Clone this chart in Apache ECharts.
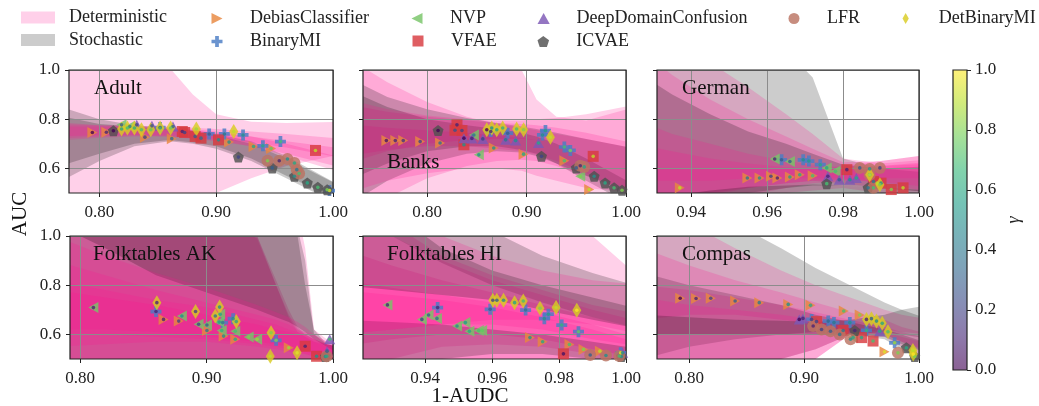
<!DOCTYPE html>
<html><head><meta charset="utf-8">
<script src="https://cdn.jsdelivr.net/npm/echarts@6/dist/echarts.min.js"></script>
<style>html,body{margin:0;padding:0;background:#fff}#c{width:1039px;height:406px}</style>
</head><body><div id="c"></div><script>
// ---------------- data ----------------
const panelNames = ['Adult','Banks','German','Folktables AK','Folktables HI','Compas'];
const xMin = [0.774, 0.7355, 0.931, 0.792, 0.9214, 0.772];
const xMax = [1.0, 1.0, 1.0, 1.0, 1.0, 1.0];
const xTicks = [[0.8,0.9,1.0],[0.8,0.9,1.0],[0.94,0.96,0.98,1.0],[0.8,0.9,1.0],[0.94,0.96,0.98,1.0],[0.8,0.9,1.0]];
const yTicks = [0.6, 0.8, 1.0];
const cbTicks = [0.0, 0.2, 0.4, 0.6, 0.8, 1.0];
const methods = ['DebiasClassifier','BinaryMI','NVP','VFAE','DeepDomainConfusion','ICVAE','LFR','DetBinaryMI'];

// points per panel: [1-AUDC, AUC, gamma]
const DebiasClassifier = [
 [[0.794,0.746,0.0],[0.806,0.747,0.1],[0.839,0.727,0.2],[0.862,0.721,0.35],[0.911,0.707,0.5],[0.932,0.689,0.6],[0.947,0.681,0.75]],
 [[0.759,0.713,0.05],[0.768,0.713,0.1],[0.776,0.713,0.15],[0.793,0.709,0.2],[0.813,0.703,0.35],[0.867,0.683,0.5],[0.897,0.658,0.6],[0.938,0.631,0.7],[0.963,0.514,0.9]],
 [[0.937,0.521,0.9],[0.9548,0.561,0.4],[0.958,0.561,0.5],[0.961,0.568,0.2],[0.9627,0.561,0.1],[0.966,0.565,0.55],[0.9686,0.574,0.6],[0.972,0.570,0.7]],
 [[0.866,0.661,0.1],[0.878,0.654,0.2],[0.9003,0.616,0.4],[0.9135,0.593,0.5],[0.9227,0.580,0.6],[0.965,0.546,0.85]],
 [[0.9713,0.587,0.5],[0.9751,0.570,0.6],[0.9831,0.559,0.7],[0.9873,0.539,0.8],[0.9922,0.532,0.9]],
 [[0.7922,0.747,0.0],[0.806,0.746,0.1],[0.8188,0.747,0.2],[0.840,0.736,0.3],[0.861,0.729,0.4],[0.8862,0.722,0.5],[0.9056,0.718,0.6],[0.9345,0.695,0.7],[0.9484,0.679,0.8],[0.970,0.529,0.95]]
];
const BinaryMI = [
 [[0.852,0.766,0.1],[0.894,0.740,0.3],[0.907,0.740,0.4],[0.923,0.736,0.5],[0.940,0.692,0.6],[0.955,0.709,0.7],[0.997,0.510,0.95]],
 [[0.864,0.750,0.1],[0.881,0.743,0.3],[0.916,0.736,0.5],[0.919,0.754,0.55],[0.938,0.687,0.7],[0.944,0.673,0.8]],
 [[0.9638,0.635,0.3],[0.9695,0.635,0.5],[0.971,0.630,0.55],[0.974,0.615,0.6],[0.989,0.540,0.9]],
 [[0.860,0.693,0.1],[0.9127,0.648,0.4],[0.921,0.664,0.5],[0.955,0.576,0.8]],
 [[0.9437,0.709,0.1],[0.9594,0.702,0.3],[0.970,0.699,0.4],[0.9756,0.664,0.5],[0.9768,0.682,0.55],[0.9808,0.638,0.65],[0.9858,0.611,0.75],[0.9984,0.525,0.95]],
 [[0.9065,0.661,0.2],[0.921,0.654,0.35],[0.926,0.648,0.4],[0.9398,0.648,0.5],[0.9543,0.616,0.65],[0.9788,0.566,0.85]]
];
const NVP = [
 [[0.819,0.777,0.3],[0.826,0.770,0.4]],
 [[0.847,0.736,0.4],[0.852,0.655,0.5],[0.954,0.568,0.8]],
 [[0.962,0.638,0.1],[0.966,0.628,0.3],[0.9757,0.602,0.6],[0.978,0.588,0.7]],
 [[0.8105,0.709,0.1],[0.8805,0.675,0.5],[0.8937,0.641,0.2],[0.9003,0.638,0.3],[0.9108,0.682,0.6],[0.910,0.650,0.55],[0.912,0.616,0.65],[0.9227,0.613,0.7],[0.9333,0.589,0.8],[0.940,0.580,0.85]],
 [[0.9287,0.720,0.1],[0.939,0.661,0.2],[0.941,0.679,0.3],[0.9435,0.665,0.35],[0.9495,0.634,0.5],[0.952,0.648,0.55],[0.9532,0.613,0.6],[0.956,0.616,0.7],[0.957,0.616,0.75]],
 [[0.9426,0.587,0.6]]
];
const VFAE = [
 [[0.871,0.750,0.1],[0.873,0.746,0.2],[0.882,0.730,0.3],[0.887,0.723,0.35],[0.902,0.716,0.5],[0.985,0.673,0.9]],
 [[0.830,0.777,0.1],[0.835,0.754,0.2],[0.828,0.755,0.25],[0.837,0.696,0.5],[0.967,0.649,0.9]],
 [[0.981,0.595,0.1],[0.988,0.547,0.4],[0.990,0.540,0.5],[0.9927,0.514,0.8],[0.9958,0.521,0.9]],
 [[0.978,0.552,0.1],[0.987,0.511,0.5]],
 [[0.9813,0.521,0.05]],
 [[0.9108,0.652,0.2],[0.934,0.616,0.4],[0.950,0.587,0.6],[0.960,0.573,0.7]]
];
const DeepDomainConfusion = [
 [[0.832,0.777,0.2],[0.845,0.773,0.25],[0.863,0.770,0.3]],
 [[0.837,0.723,0.0],[0.845,0.722,0.1],[0.856,0.720,0.2],[0.879,0.716,0.4],[0.889,0.713,0.5],[0.912,0.703,0.6]],
 [[0.976,0.568,0.1],[0.979,0.554,0.3],[0.9818,0.554,0.5],[0.9835,0.561,0.6]],
 [[0.9974,0.580,0.7],[0.9953,0.532,0.3]],
 [[0.999,0.525,0.5]],
 [[0.8958,0.661,0.0],[0.899,0.665,0.1],[0.9658,0.613,0.6]]
];
const ICVAE = [
 [[0.812,0.753,0.0],[0.919,0.646,0.2],[0.948,0.602,0.3],[0.967,0.568,0.5],[0.978,0.541,0.6],[0.987,0.523,0.7],[0.995,0.513,0.8]],
 [[0.811,0.754,0.0],[0.915,0.649,0.2],[0.950,0.602,0.3],[0.968,0.568,0.5],[0.979,0.541,0.6],[0.988,0.521,0.7],[0.996,0.511,0.8]],
 [[0.9757,0.538,0.7],[0.9866,0.521,0.4]],
 [[0.994,0.510,0.5]],
 [[0.9986,0.510,0.5]],
 [[0.9441,0.616,0.1],[0.989,0.546,0.6],[0.9963,0.510,0.8]]
];
const LFR = [
 [[0.944,0.631,0.8],[0.954,0.631,0.1],[0.961,0.638,0.5],[0.967,0.622,0.6],[0.969,0.595,0.4],[0.971,0.579,0.7]],
 [[0.954,0.611,0.1],[0.958,0.606,0.6]],
 [[0.9844,0.602,0.3],[0.987,0.598,0.5],[0.9897,0.602,0.2],[0.987,0.574,0.6],[0.988,0.521,0.7]],
 [[0.995,0.511,0.6]],
 [[0.9893,0.516,0.3],[0.994,0.514,0.5],[0.998,0.512,0.7]],
 [[0.9079,0.634,0.1],[0.9152,0.620,0.2],[0.923,0.613,0.3],[0.931,0.600,0.4],[0.9404,0.580,0.5],[0.9817,0.525,0.8]]
];
const DetBinaryMI = [
 [[0.819,0.760,0.6],[0.824,0.764,0.7],[0.830,0.764,0.65],[0.836,0.757,0.7],[0.844,0.757,0.75],[0.852,0.764,0.7],[0.861,0.764,0.75],[0.883,0.760,0.85],[0.915,0.750,0.9]],
 [[0.860,0.757,0.0],[0.865,0.764,0.5],[0.870,0.757,0.6],[0.876,0.764,0.65],[0.890,0.760,0.7],[0.897,0.757,0.8],[0.924,0.727,0.9]],
 [[0.987,0.574,0.9],[0.9897,0.534,0.8]],
 [[0.8607,0.729,0.1],[0.8913,0.693,0.2],[0.9069,0.675,0.4],[0.9103,0.711,0.5],[0.9235,0.652,0.6],[0.951,0.607,0.8],[0.9504,0.511,0.9],[0.9716,0.525,0.95]],
 [[0.9602,0.739,0.2],[0.9614,0.739,0.3],[0.9634,0.739,0.5],[0.9667,0.729,0.6],[0.9693,0.736,0.7],[0.9743,0.706,0.8],[0.9791,0.709,0.9],[0.9853,0.698,1.0]],
 [[0.9543,0.661,0.1],[0.9586,0.664,0.3],[0.963,0.654,0.5],[0.968,0.645,0.6],[0.973,0.611,0.7],[0.9947,0.535,0.9],[0.995,0.520,1.0]]
];

// confidence bands per panel: [kind, upper, lower] sampled at the panel's band x values
const adultBandX = [0.76,0.80,0.83,0.86,0.88,0.90,0.93,0.96,1.01];
const adultBands = [
 ['det',   [1.4,1.2,1.08,1.01,0.9,0.82,0.79,0.785,0.79], [0.2,0.3,0.38,0.44,0.47,0.50,0.56,0.61,0.66]],
 ['stoch', [0.86,0.80,0.775,0.765,0.755,0.74,0.71,0.65,0.52], [0.53,0.63,0.69,0.71,0.70,0.68,0.63,0.56,0.44]],
 ['stoch', [0.82,0.78,0.77,0.76,0.75,0.735,0.70,0.64,0.52], [0.60,0.66,0.70,0.715,0.705,0.69,0.64,0.57,0.46]],
 ['det',   [0.79,0.775,0.77,0.765,0.76,0.75,0.73,0.70,0.64], [0.71,0.725,0.73,0.73,0.725,0.715,0.69,0.65,0.58]],
 ['det',   [0.78,0.775,0.772,0.77,0.765,0.76,0.75,0.74,0.72], [0.72,0.73,0.735,0.735,0.73,0.72,0.705,0.685,0.64]],
 ['det',   [0.77,0.77,0.765,0.76,0.755,0.745,0.73,0.71,0.68], [0.73,0.735,0.735,0.73,0.72,0.71,0.69,0.66,0.60]]
];
const banksBandX = [0.72,0.76,0.80,0.84,0.87,0.895,0.91,0.93,0.96,1.01];
const banksBands = [
 ['det',   [1.6,1.4,1.25,1.12,1.04,1.0,0.88,0.81,0.795,0.85], [0.1,0.25,0.35,0.42,0.46,0.48,0.49,0.5,0.5,0.46]],
 ['det',   [1.05,0.95,0.87,0.81,0.78,0.765,0.755,0.74,0.72,0.68], [0.38,0.48,0.56,0.61,0.63,0.635,0.63,0.61,0.57,0.50]],
 ['stoch', [0.92,0.85,0.80,0.775,0.76,0.745,0.73,0.70,0.64,0.53], [0.55,0.62,0.67,0.69,0.69,0.675,0.66,0.62,0.55,0.44]],
 ['det',   [0.78,0.765,0.755,0.745,0.735,0.725,0.715,0.70,0.66,0.58], [0.65,0.675,0.69,0.69,0.68,0.67,0.655,0.63,0.58,0.48]],
 ['det',   [0.86,0.83,0.81,0.795,0.785,0.78,0.775,0.765,0.745,0.70], [0.62,0.67,0.70,0.715,0.72,0.72,0.715,0.70,0.66,0.58]],
 ['stoch', [0.97,0.89,0.84,0.805,0.785,0.77,0.76,0.745,0.72,0.68], [0.45,0.55,0.62,0.66,0.67,0.665,0.65,0.62,0.57,0.49]],
 ['det',   [0.88,0.84,0.815,0.80,0.795,0.795,0.80,0.805,0.82,0.86], [0.50,0.55,0.58,0.60,0.60,0.59,0.57,0.55,0.52,0.50]]
];
const germanBandX = [0.925,0.935,0.945,0.955,0.965,0.972,0.98,0.99,1.005];
const germanBands = [
 ['stoch', [1.8,1.6,1.4,1.2,1.08,0.97,0.64,0.60,0.58], [0.2,0.3,0.38,0.44,0.48,0.50,0.50,0.48,0.45]],
 ['det',   [1.3,1.15,1.03,0.93,0.82,0.74,0.64,0.62,0.64], [0.35,0.40,0.45,0.48,0.50,0.51,0.52,0.50,0.48]],
 ['det',   [1.1,0.98,0.88,0.80,0.73,0.68,0.625,0.63,0.66], [0.40,0.45,0.50,0.52,0.54,0.55,0.54,0.52,0.50]],
 ['stoch', [1.0,0.90,0.82,0.75,0.70,0.66,0.615,0.60,0.61], [0.35,0.42,0.47,0.50,0.52,0.53,0.53,0.52,0.50]],
 ['det',   [0.80,0.74,0.70,0.66,0.63,0.615,0.60,0.61,0.63], [0.40,0.45,0.49,0.52,0.54,0.55,0.555,0.545,0.52]],
 ['det',   [0.70,0.67,0.64,0.62,0.605,0.60,0.60,0.61,0.62], [0.30,0.38,0.44,0.49,0.52,0.54,0.55,0.56,0.56]],
 ['stoch', [0.47,0.49,0.51,0.525,0.53,0.535,0.53,0.52,0.51], [0.3,0.3,0.3,0.3,0.3,0.3,0.3,0.3,0.3]],
 ['det',   [0.6,0.6,0.6,0.6,0.6,0.6,0.61,0.63,0.66], [0.55,0.55,0.55,0.56,0.56,0.56,0.56,0.54,0.50]]
];
const akBandX = [0.78,0.82,0.86,0.90,0.94,0.955,0.965,0.972,0.978,0.985,0.995,1.005];
const akBands = [
 ['det',   [2,2,2,2,2,1.6,1.3,1.1,0.95,0.62,0.58,0.56], [0.3,0.3,0.3,0.3,0.3,0.3,0.3,0.3,0.3,0.3,0.3,0.3]],
 ['det',   [2,1.8,1.6,1.3,1.0,0.8,0.68,0.62,0.6,0.58,0.56,0.55], [0.3,0.3,0.3,0.3,0.3,0.3,0.3,0.3,0.3,0.3,0.3,0.3]],
 ['det',   [1.8,1.6,1.4,1.2,1.0,0.82,0.7,0.63,0.6,0.58,0.56,0.55], [0.3,0.3,0.3,0.3,0.3,0.3,0.3,0.3,0.3,0.3,0.3,0.3]],
 ['det',   [1.6,1.4,1.25,1.1,0.99,0.8,0.67,0.61,0.59,0.57,0.56,0.55], [0.4,0.4,0.4,0.4,0.4,0.4,0.4,0.4,0.4,0.4,0.4,0.4]],
 ['stoch', [3,3,3,3,3,2,1.3,1.0,0.8,0.62,0.56,0.55], [0.3,0.3,0.3,0.3,0.3,0.3,0.3,0.3,0.3,0.3,0.3,0.3]],
 ['stoch', [2,2,2,2,1.6,1.3,1.15,1.03,0.9,0.6,0.56,0.55], [1.05,0.95,0.84,0.77,0.70,0.67,0.65,0.63,0.61,0.58,0.55,0.52]],
 ['det',   [0.82,0.78,0.74,0.71,0.66,0.64,0.62,0.61,0.60,0.58,0.56,0.54], [0.6,0.6,0.59,0.58,0.56,0.55,0.54,0.53,0.52,0.51,0.5,0.49]],
 ['det',   [0.78,0.75,0.72,0.68,0.64,0.62,0.61,0.6,0.59,0.57,0.55,0.53], [0.62,0.62,0.61,0.59,0.57,0.56,0.55,0.54,0.53,0.52,0.51,0.5]],
 ['det',   [0.9,0.84,0.78,0.73,0.68,0.66,0.64,0.62,0.61,0.6,0.57,0.55], [0.55,0.56,0.57,0.57,0.55,0.54,0.53,0.52,0.52,0.51,0.5,0.49]],
 ['det',   [1.0,0.92,0.85,0.79,0.72,0.69,0.67,0.65,0.63,0.6,0.57,0.55], [0.5,0.5,0.5,0.5,0.5,0.5,0.5,0.5,0.5,0.5,0.5,0.5]]
];
const hiBandX = [0.915,0.93,0.945,0.96,0.975,0.99,1.005];
const hiBands = [
 ['det',   [3,3,2.5,1.8,1.3,1.0,0.82], [0.3,0.35,0.4,0.45,0.48,0.5,0.5]],
 ['stoch', [1.6,1.4,1.2,1.02,0.92,0.85,0.79], [1.15,1.0,0.89,0.80,0.73,0.67,0.62]],
 ['det',   [1.1,1.0,0.9,0.82,0.76,0.7,0.65], [0.3,0.35,0.4,0.45,0.48,0.5,0.5]],
 ['det',   [0.95,0.88,0.82,0.77,0.72,0.67,0.62], [0.4,0.42,0.45,0.48,0.5,0.5,0.5]],
 ['det',   [0.82,0.79,0.76,0.73,0.69,0.64,0.58], [0.55,0.58,0.6,0.6,0.58,0.54,0.5]],
 ['det',   [0.78,0.76,0.74,0.71,0.67,0.62,0.56], [0.45,0.5,0.55,0.56,0.55,0.52,0.48]],
 ['stoch', [0.66,0.65,0.64,0.62,0.6,0.57,0.54], [0.45,0.48,0.5,0.52,0.52,0.5,0.48]],
 ['det',   [1.2,1.1,1.0,0.92,0.86,0.82,0.8], [0.6,0.62,0.64,0.66,0.66,0.64,0.6]],
 ['det',   [1.3,1.05,0.92,0.84,0.78,0.72,0.68], [0.6,0.62,0.64,0.64,0.62,0.58,0.55]],
 ['stoch', [1.4,1.1,0.95,0.86,0.8,0.75,0.7], [0.8,0.78,0.76,0.74,0.7,0.66,0.62]]
];
const compasBandX = [0.76,0.80,0.84,0.88,0.91,0.94,0.97,0.985,1.01];
const compasBands = [
 ['stoch', [1.4,1.2,1.05,0.95,0.87,0.80,0.73,0.70,0.66], [0.3,0.4,0.46,0.5,0.54,0.6,0.61,0.6,0.58]],
 ['det',   [1.2,1.05,0.95,0.86,0.8,0.75,0.7,0.68,0.66], [0.2,0.3,0.38,0.45,0.5,0.6,0.62,0.61,0.6]],
 ['det',   [0.8,0.78,0.75,0.72,0.69,0.66,0.63,0.61,0.58], [0.66,0.68,0.68,0.66,0.64,0.61,0.6,0.57,0.52]],
 ['stoch', [0.85,0.8,0.76,0.72,0.68,0.65,0.62,0.6,0.56], [0.5,0.55,0.58,0.6,0.61,0.6,0.58,0.54,0.47]],
 ['det',   [0.75,0.72,0.7,0.68,0.66,0.63,0.61,0.59,0.56], [0.2,0.3,0.4,0.46,0.5,0.6,0.59,0.55,0.5]],
 ['det',   [0.95,0.88,0.82,0.77,0.73,0.69,0.66,0.63,0.6], [0.3,0.38,0.45,0.5,0.54,0.6,0.6,0.57,0.53]],
 ['stoch', [0.68,0.67,0.66,0.655,0.65,0.66,0.68,0.7,0.72], [0.6,0.6,0.6,0.6,0.6,0.6,0.59,0.56,0.52]]
];

// ---------------- styling / layout ----------------
const FONT = 'Liberation Serif';
const PINK = 'rgba(255,20,147,0.2)';
const GRAY = 'rgba(0,0,0,0.2)';
const VIRIDIS = ['#440154','#482878','#3e4989','#31688e','#26828e','#1f9e89','#35b779','#6ece58','#b5de2b','#fde725'];
const COLORS = {DebiasClassifier:'#e8873f', BinaryMI:'#4a7cc4', NVP:'#78c468', VFAE:'#d83a40',
  DeepDomainConfusion:'#7d58b5', ICVAE:'#505050', LFR:'#bb7463', DetBinaryMI:'#d9cc22'};
const SYMBOL = {
  DebiasClassifier:'path://M0,0L10,5L0,10Z',
  BinaryMI:'path://M3.3,0H6.7V3.3H10V6.7H6.7V10H3.3V6.7H0V3.3H3.3Z',
  NVP:'path://M10,0L0,5L10,10Z',
  VFAE:'path://M0,0H10V10H0Z',
  DeepDomainConfusion:'path://M5,0L10,9L0,9Z',
  ICVAE:'path://M5,0L10,3.6L8.1,9.5L1.9,9.5L0,3.6Z',
  LFR:'circle',
  DetBinaryMI:'path://M4,0L8,7L4,14L0,7Z'
};
const SIZE = {DebiasClassifier:[10,11], BinaryMI:11, NVP:[10,11], VFAE:11, DeepDomainConfusion:[11,10], ICVAE:11, LFR:12, DetBinaryMI:[9,15]};
const methodData = {DebiasClassifier, BinaryMI, NVP, VFAE, DeepDomainConfusion, ICVAE, LFR, DetBinaryMI};
const bandX = [adultBandX, banksBandX, germanBandX, akBandX, hiBandX, compasBandX];
const bandSets = [adultBands, banksBands, germanBands, akBands, hiBands, compasBands];

const gridRects = [[69,70,264,123],[363,70,263,123],[657,70,262,123],[70,236,263,123],[363,236,263,123],[657,236,262,123]];
const titlePos = [[94,88],[387,162],[682,88],[93,254],[387,254],[682,254]];

const grids = [], xAxes = [], yAxes = [], series = [], graphics = [];
gridRects.forEach((r, i) => {
  grids.push({left:r[0], top:r[1], width:r[2], height:r[3], show:true, borderColor:'#222', borderWidth:1.2, z:4, containLabel:false});
  xAxes.push({type:'value', gridIndex:i, min:xMin[i], max:xMax[i], z:3,
    axisLine:{show:false},
    axisTick:{show:true, length:4, customValues:xTicks[i], lineStyle:{color:'#222', width:1}},
    axisLabel:{show:true, customValues:xTicks[i], formatter:v=>v.toFixed(2), fontFamily:FONT, fontSize:17, color:'#222', margin:11},
    splitLine:{show:true, lineStyle:{color:'#8c8c8c', width:1}}});
  yAxes.push({type:'value', gridIndex:i, min:0.5, max:1.0, z:3,
    axisLine:{show:false},
    axisTick:{show:true, length:4, customValues:yTicks, lineStyle:{color:'#222', width:1}},
    axisLabel:{show:i%3===0, customValues:yTicks, formatter:v=>v.toFixed(1), fontFamily:FONT, fontSize:17, color:'#222', margin:9},
    splitLine:{show:true, lineStyle:{color:'#8c8c8c', width:1}}});
  graphics.push({type:'text', x:titlePos[i][0], y:titlePos[i][1], z:10,
    style:{text:panelNames[i], fontFamily:FONT, fontSize:21, fill:'#111', align:'left', verticalAlign:'middle'}});
});

// bands
bandSets.forEach((bands, pi) => {
  const xs = bandX[pi];
  bands.forEach(b => {
    const kind = b[0], hi = b[1], lo = b[2];
    const data = xs.map((x, k) => [x, lo[k], hi[k]]);
    series.push({type:'custom', name: kind === 'det' ? 'Deterministic' : 'Stochastic',
      xAxisIndex:pi, yAxisIndex:pi, clip:true, silent:true, z:1, data,
      encode:{x:0, y:[1,2]},
      renderItem(params, api) {
        if (params.dataIndex !== 0) return null;
        const up = [], dn = [];
        for (let k = 0; k < data.length; k++) {
          up.push(api.coord([data[k][0], data[k][2]]));
          dn.push(api.coord([data[k][0], data[k][1]]));
        }
        return {type:'polygon', shape:{points: up.concat(dn.reverse())},
          style:{fill: kind === 'det' ? PINK : GRAY, stroke:null}};
      }});
  });
});

// markers and gamma dots
const dotSeriesIdx = [];
for (let pi = 0; pi < 6; pi++) {
  methods.forEach(m => {
    const pts = methodData[m][pi];
    series.push({type:'scatter', name:m, xAxisIndex:pi, yAxisIndex:pi, silent:true, z:5,
      symbol:SYMBOL[m], symbolSize:SIZE[m],
      itemStyle:{color:COLORS[m], opacity:0.82},
      data: pts.map(p => [p[0], p[1]])});
  });
  methods.forEach(m => {
    const pts = methodData[m][pi];
    dotSeriesIdx.push(series.length);
    series.push({type:'scatter', name:m + ' γ', xAxisIndex:pi, yAxisIndex:pi, silent:true, z:6,
      symbol:'circle', symbolSize:3.6, data: pts.map(p => [p[0], p[1], p[2]])});
  });
}

// colorbar
grids.push({left:953, top:70, width:14, height:300, show:true, borderColor:'#222', borderWidth:1.2, z:4});
xAxes.push({type:'category', gridIndex:6, data:['γ'], show:false});
yAxes.push({type:'value', gridIndex:6, min:0, max:1, interval:0.2, position:'right', z:3,
  axisLine:{show:false}, splitLine:{show:false},
  axisTick:{show:true, length:4, lineStyle:{color:'#222'}},
  axisLabel:{formatter:v=>v.toFixed(1), fontFamily:FONT, fontSize:17, color:'#222', margin:8},
  name:'γ', nameLocation:'middle', nameGap:38, nameRotate:90,
  nameTextStyle:{fontFamily:FONT, fontSize:18, color:'#222', fontStyle:'italic'}});
series.push({type:'bar', xAxisIndex:6, yAxisIndex:6, silent:true, barWidth:'100%', data:[cbTicks[cbTicks.length-1]],
  itemStyle:{color:{type:'linear', x:0, y:1, x2:0, y2:0,
    colorStops: VIRIDIS.map((c, k) => ({offset:k/(VIRIDIS.length-1), color: echarts.color.modifyAlpha(c, 0.62)}))}}});

// axis titles
graphics.push({type:'text', x:20, y:214, rotation:Math.PI/2, z:10,
  style:{text:'AUC', fontFamily:FONT, fontSize:21, fill:'#111', align:'center', verticalAlign:'middle'}});
graphics.push({type:'text', x:470, y:396, z:10,
  style:{text:'1-AUDC', fontFamily:FONT, fontSize:21, fill:'#111', align:'center', verticalAlign:'middle'}});

// legend
const legendSpots = [
  ['Deterministic', 21, 14.5, true], ['Stochastic', 21, 37, true],
  ['DebiasClassifier', 217, 15], ['BinaryMI', 217, 38], ['NVP', 417, 15], ['VFAE', 418, 37.5],
  ['DeepDomainConfusion', 543, 15], ['ICVAE', 543, 38], ['LFR', 794, 15], ['DetBinaryMI', 908, 15]
];
const legends = legendSpots.map(s => {
  const name = s[0];
  if (s[3]) {
    return {data:[{name, icon:'rect', itemStyle:{color: name === 'Deterministic' ? PINK : GRAY}}],
      left:s[1], top:s[2]-6, itemWidth:34, itemHeight:12, padding:0, selectedMode:false,
      textStyle:{fontFamily:FONT, fontSize:18, color:'#222', padding:[0,0,0,9]}};
  }
  return {data:[{name, icon:SYMBOL[name]}], left:s[1]-5.5, top:s[2]-5.5, itemWidth:56, itemHeight:11,
    padding:0, selectedMode:false, textStyle:{fontFamily:FONT, fontSize:18, color:'#222'}};
});

const chart = echarts.init(document.getElementById('c'), null, {renderer:'canvas'});
chart.setOption({
  animation:false,
  backgroundColor:'#fff',
  grid:grids, xAxis:xAxes, yAxis:yAxes, series, legend:legends, graphic:graphics,
  visualMap:{type:'continuous', show:false, min:0, max:1, dimension:2, seriesIndex:dotSeriesIdx,
    inRange:{color:VIRIDIS}}
});
</script></body></html>
